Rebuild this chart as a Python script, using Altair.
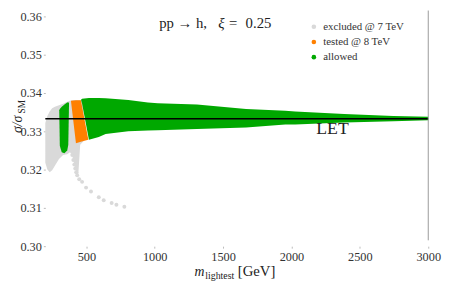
import altair as alt
import pandas as pd

# ---------------- data ----------------
labels = ["excluded @ 7 TeV", "tested @ 8 TeV", "allowed"]
colors = ["#d9d9d9", "#ff8000", "#00a800"]

# grey (excluded) envelope at low mass
gray_m = [200, 215, 232, 250, 270, 300, 330, 360, 380, 395, 410, 425, 440, 455, 480]
gray_hi = [0.3322, 0.3340, 0.3352, 0.3360, 0.3364, 0.3368, 0.3372, 0.3377, 0.3380, 0.3381, 0.3382, 0.3382, 0.3382, 0.3382, 0.3382]
gray_lo = [0.3218, 0.3200, 0.3193, 0.3198, 0.3210, 0.3228, 0.3238, 0.3240, 0.3245, 0.3240, 0.3215, 0.3195, 0.3180, 0.3265, 0.3275]

# grey tail of isolated points
tail_m = [390, 397, 405, 412, 419, 426, 433, 448, 469, 498, 534, 591, 627, 685, 720, 778]
tail_v = [0.3250, 0.3238, 0.3225, 0.3213, 0.3203, 0.3193, 0.3185, 0.3175, 0.3168, 0.3153,
          0.3143, 0.3128, 0.3120, 0.3113, 0.3108, 0.3103]

# first (narrow) allowed strip
s1_m = [302, 306, 320, 340, 360, 368, 373]
s1_hi = [0.3355, 0.3358, 0.3364, 0.3370, 0.3375, 0.3376, 0.3374]
s1_lo = [0.3350, 0.3262, 0.3245, 0.3243, 0.3250, 0.3265, 0.3365]

# tested @ 8 TeV strip
or_m = [388, 424, 460, 514]
or_hi = [0.3380, 0.3381, 0.3381, 0.3279]
or_lo = [0.3378, 0.3269, 0.3273, 0.3278]

# main allowed band
gr_m = [462, 469, 519, 591, 641, 807, 950, 1022, 1309, 1668, 1955, 2027, 2386, 2745, 3000]
gr_hi = [0.3383, 0.3385, 0.3387, 0.3387, 0.3386, 0.3382, 0.3375, 0.3373, 0.3370, 0.3358,
         0.3354, 0.3352, 0.3345, 0.3340, 0.3338]
gr_lo = [0.3381, 0.3372, 0.3278, 0.3285, 0.3293, 0.3300, 0.3302, 0.3303, 0.3306, 0.3310,
         0.3318, 0.3318, 0.3323, 0.3326, 0.3329]

let_value = [0.3333]
let_label = ["LET"]
x_ticks = [500, 1000, 1500, 2000, 2500, 3000]
y_ticks = [0.30, 0.31, 0.32, 0.33, 0.34, 0.35, 0.36]
process_text = ["pp \u2192 h,", "\u03be", "=", "0.25"]
x_title = ["m", "lightest", "[GeV]"]
y_title = ["\u03c3/\u03c3", "SM"]

SERIF = "Liberation Serif"
W, H = 390, 234

xscale = alt.Scale(domain=[200, 3000], nice=False, zero=False)
yscale = alt.Scale(domain=[0.30, 0.36], nice=False, zero=False)
xaxis = alt.Axis(values=x_ticks, title=None, grid=False, domain=False, tickSize=2,
                 tickColor="#bbbbbb", labelFont=SERIF, labelFontSize=12.5, labelColor="#333333",
                 labelPadding=3, labelFlush=False, format="d")
yaxis = alt.Axis(values=y_ticks, title=None, grid=False, domain=False, tickSize=2,
                 tickColor="#bbbbbb", labelFont=SERIF, labelFontSize=12.5, labelColor="#333333",
                 labelPadding=2, format=".2f")
color = alt.Color("series:N", scale=alt.Scale(domain=labels, range=colors),
                  legend=alt.Legend(title=None, orient="none", legendX=268, legendY=5,
                                    symbolType="circle", symbolSize=22, symbolStrokeWidth=0,
                                    labelFont=SERIF, labelFontSize=11, labelColor="#333333",
                                    rowPadding=3.5, labelOffset=4, padding=0))


def band(m, hi, lo, s):
    return pd.DataFrame({"m": m, "hi": hi, "lo": lo, "series": s})


def area(df):
    return alt.Chart(df).mark_area(interpolate="linear").encode(
        x=alt.X("m:Q", scale=xscale, axis=xaxis),
        y=alt.Y("hi:Q", scale=yscale, axis=yaxis),
        y2="lo:Q",
        color=color,
    )


gray = area(band(gray_m, gray_hi, gray_lo, labels[0]))
tail = alt.Chart(pd.DataFrame({"m": tail_m, "hi": tail_v, "series": labels[0]})).mark_circle(
    size=16, opacity=1).encode(
    x=alt.X("m:Q", scale=xscale, axis=xaxis),
    y=alt.Y("hi:Q", scale=yscale, axis=yaxis),
    color=color,
)
strip1 = area(band(s1_m, s1_hi, s1_lo, labels[2]))
orange = area(band(or_m, or_hi, or_lo, labels[1]))
green = area(band(gr_m, gr_hi, gr_lo, labels[2]))

let_rule = alt.Chart(pd.DataFrame({"v": let_value})).mark_rule(color="black", strokeWidth=1.6).encode(
    y=alt.Y("v:Q", scale=yscale, axis=yaxis))


def txt(t, x, y, size, style="normal", angle=0, align="left"):
    return alt.Chart(pd.DataFrame({"t": [t]})).mark_text(
        font=SERIF, fontSize=size, fontStyle=style, angle=angle, align=align,
        baseline="alphabetic", color="#222222").encode(
        text="t:N", x=alt.value(x), y=alt.value(y))


texts = [
    txt(let_label[0], 276, 120, 18),
    txt(process_text[0], 116, 12, 15),
    txt(process_text[1], 176, 12, 15, style="italic"),
    txt(process_text[2], 187, 12, 15),
    txt(process_text[3], 204, 12, 15),
    txt(x_title[0], 152, 264, 14, style="italic"),
    txt(x_title[1], 163, 267, 10),
    txt(x_title[2], 196, 264, 15),
    txt(y_title[0], -24, 110, 14, style="italic", angle=270, align="center"),
    txt(y_title[1], -21, 92, 9.5, angle=270, align="center"),
]

frame = alt.Chart(pd.DataFrame({"a": [0]})).mark_rule(color="#999999", strokeWidth=1).encode(
    x=alt.value(W), y=alt.value(-6), y2=alt.value(H - 6))

chart = alt.layer(gray, tail, strip1, orange, green, let_rule, frame, *texts).properties(
    width=W, height=H,
    autosize=alt.AutoSizeParams(type="none"),
    padding={"left": 38, "top": 6, "right": 14, "bottom": 40},
).configure_view(stroke=None).configure_axis(
    labelFont=SERIF
).configure_legend(labelFont=SERIF).configure_text(font=SERIF)

chart.save("out.html", embed_options={"renderer": "svg", "actions": False})
